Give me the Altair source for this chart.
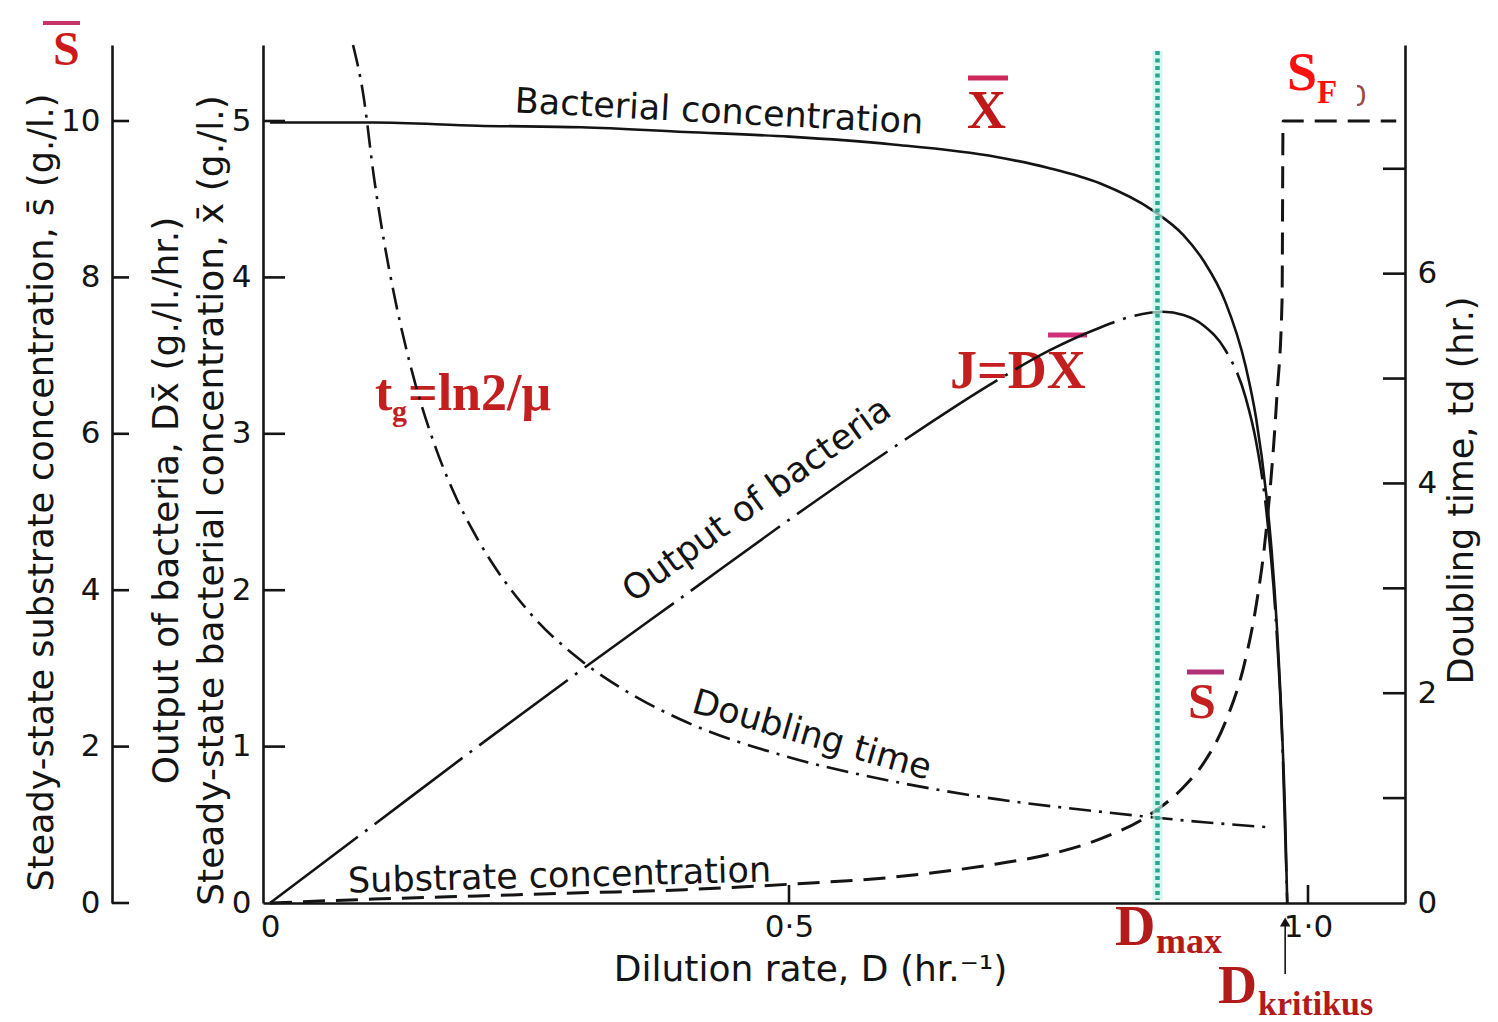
import altair as alt
import pandas as pd

# ---------------- chemostat steady-state curves ----------------
# dilution rate D (hr^-1) and steady-state bacterial concentration x (g/l)
D_X = [0, 0.1, 0.2, 0.3, 0.4, 0.5, 0.6, 0.7, 0.75, 0.8, 0.85, 0.88, 0.9,
       0.92, 0.94, 0.95, 0.96, 0.965, 0.97, 0.975, 0.978, 0.98]
X_BAR = [4.99, 4.99, 4.97, 4.96, 4.93, 4.90, 4.85, 4.77, 4.70, 4.60, 4.43, 4.27, 4.10,
         3.85, 3.43, 3.10, 2.60, 2.25, 1.77, 1.10, 0.55, 0.0]

# output of bacteria D*x (g/l/hr)
D_OUT = [0, 0.1, 0.2, 0.3, 0.4, 0.5, 0.6, 0.7, 0.75, 0.8, 0.83, 0.86, 0.88,
         0.9, 0.92, 0.94, 0.95, 0.96, 0.97, 0.975, 0.98]
OUTPUT = [0, 0.50, 1.00, 1.49, 1.97, 2.45, 2.91, 3.34, 3.53, 3.68, 3.75, 3.78, 3.76,
          3.69, 3.54, 3.23, 2.95, 2.50, 1.71, 1.07, 0.0]

# doubling time (hr)
D_TD = [0.08, 0.09, 0.1, 0.11, 0.12, 0.14, 0.16, 0.18, 0.2, 0.25, 0.3, 0.35,
        0.4, 0.5, 0.6, 0.7, 0.8, 0.9, 0.965]
T_DOUBLE = [8.18, 7.70, 6.93, 6.30, 5.78, 4.95, 4.33, 3.85, 3.47, 2.77, 2.31, 1.98,
            1.73, 1.39, 1.16, 0.99, 0.87, 0.77, 0.72]

# steady-state substrate concentration s (g/l), jumping to the feed level S_F
D_S = [0, 0.1, 0.2, 0.3, 0.4, 0.5, 0.6, 0.7, 0.75, 0.8, 0.85, 0.88, 0.9,
       0.92, 0.94, 0.95, 0.96, 0.97, 0.975, 0.976, 1.085]
S_BAR = [0, 0.05, 0.09, 0.13, 0.17, 0.24, 0.33, 0.50, 0.62, 0.82, 1.15, 1.48, 1.80,
         2.30, 3.13, 3.80, 4.80, 6.47, 7.70, 10.0, 10.0]

D_MAX = 0.855
D_CRIT = 0.978

X_TICKS = [0, 0.5, 1.0]
X_MARKS = [0.5, 1.0]
SUB_TICKS = [0, 2, 4, 6, 8, 10]
BAC_TICKS = [0, 1, 2, 3, 4, 5]
BAC_MARKS = [1, 2, 3, 4, 5]
TD_TICKS = [0, 2, 4, 6]
TD_MARKS = [1, 2, 3, 4, 5, 6, 7]

# curve captions: text, D, value, angle
BAC_CAPTIONS = [("Bacterial concentration", 0.4326, 5.058, 3),
                ("Output of bacteria", 0.469, 2.577, 324)]
TD_CAPTIONS = [("Doubling time", 0.522, 1.60, 16)]
SUB_CAPTIONS = [("Substrate concentration", 0.279, 0.345, 358.5)]

# ---------------- geometry & style ----------------
W, H = 1142, 858
PAD_L, PAD_T = 263, 45
SANS = "DejaVu Sans"
SERIF = "Liberation Serif"
INK = "#141414"

xs = alt.Scale(domain=[-0.00674, 1.09345], nice=False, zero=False)
sb = alt.Scale(domain=[0, 5.486], nice=False, zero=False)
ss = alt.Scale(domain=[0, 10.972], nice=False, zero=False)
st = alt.Scale(domain=[0, 8.18], nice=False, zero=False)

common = dict(grid=False, ticks=False, domainColor=INK, domainWidth=2.6,
              labelFont=SANS, labelFontSize=31, labelColor=INK,
              titleFont=SANS, titleFontWeight="normal", titleColor=INK)

x_axis = alt.Axis(values=X_TICKS, labelFlush=False, labelPadding=9,
                  labelExpr="datum.value == 0 ? '0' : replace(format(datum.value, '.1f'), '.', '·')",
                  title="Dilution rate, D (hr.⁻¹)", titleFontSize=36,
                  titlePadding=10, titleX=547, **common)
bac_axis = alt.Axis(orient="left", values=BAC_TICKS, labelPadding=12,
                    title=["Output of bacteria, Dx̄ (g./l./hr.)",
                           "Steady-state bacterial concentration, x̄ (g./l.)"],
                    titleFontSize=36, titleLineHeight=45, titlePadding=1,
                    titleY=455, **common)
sub_axis = alt.Axis(orient="left", offset=151, values=SUB_TICKS, labelPadding=12,
                    title="Steady-state substrate concentration, s̄ (g./l.)",
                    titleFontSize=35, titlePadding=1, titleY=447, **common)
td_axis = alt.Axis(orient="right", values=TD_TICKS, labelPadding=12,
                   title="Doubling time, td (hr.)", titleFontSize=35,
                   titleAngle=270, titleBaseline="top", titlePadding=8,
                   titleY=445, **common)

ONE = pd.DataFrame({"k": [0]})


def xd(axis=x_axis):
    return alt.X("D:Q", scale=xs, axis=axis)


def curve(ds, vs, scale, axis, dash=None, width=2.6):
    df = pd.DataFrame({"D": ds, "v": vs})
    kw = dict(color=INK, strokeWidth=width, interpolate="monotone")
    if dash:
        kw["strokeDash"] = dash
    return alt.Chart(df).mark_line(**kw).encode(
        x=xd(), y=alt.Y("v:Q", scale=scale, axis=axis))


def captions(rows, scale):
    out = []
    for text, d, v, ang in rows:
        df = pd.DataFrame({"D": [d], "v": [v], "t": [text]})
        out.append(alt.Chart(df).mark_text(font=SANS, fontSize=35, color=INK,
                                           angle=ang, baseline="middle")
                   .encode(x=xd(), y=alt.Y("v:Q", scale=scale, axis=None), text="t:N"))
    return out


def yticks(vals, scale, x0, x1):
    df = pd.DataFrame({"v": vals})
    return alt.Chart(df).mark_rule(color=INK, strokeWidth=2.6).encode(
        x=alt.value(x0), x2=alt.value(x1), y=alt.Y("v:Q", scale=scale, axis=None))


def note(text, x, y, size, color, font=SERIF, weight="bold"):
    return alt.Chart(ONE).mark_text(text=text, font=font, fontSize=size, fontWeight=weight,
                                    color=color, align="left", baseline="alphabetic").encode(
        x=alt.value(x - PAD_L), y=alt.value(y - PAD_T))


def overline(x1, x2, y, color, width=4):
    return alt.Chart(ONE).mark_rule(color=color, strokeWidth=width).encode(
        x=alt.value(x1 - PAD_L), x2=alt.value(x2 - PAD_L), y=alt.value(y - PAD_T))


# red labels
DARK_RED = "#b31a1a"
RED = "#c41f1f"
notes = [
    overline(43, 80, 23, "#c8336a"),
    note("S", 53, 65, 48, "#cc1a1a"),
    overline(968, 1008, 78, "#cc2a5a", 5),
    note("X", 967, 128, 54, "#c01818"),
    note("0", 1349, 106, 28, "#a04848", font=SANS, weight="normal"),
    alt.Chart(ONE).mark_rect(color="white").encode(
        x=alt.value(1273 - PAD_L), x2=alt.value(1357 - PAD_L),
        y=alt.value(40 - PAD_T), y2=alt.value(112 - PAD_T)),
    note("S", 1287, 90, 54, "#ff1010"),
    note("F", 1317, 103, 33, "#ff1010"),
    note("J=DX", 950, 388, 54, RED),
    overline(1048, 1087, 335, "#d0307a", 5),
    note("t", 375, 410, 52, RED),
    note("g", 392, 421, 30, RED),
    note("=ln2/μ", 408, 410, 52, RED),
    overline(1187, 1224, 672, "#b0307a", 5),
    note("S", 1188, 718, 50, RED),
    note("D", 1115, 945, 56, DARK_RED),
    note("max", 1156, 953, 36, DARK_RED),
    note("D", 1218, 1003, 54, DARK_RED),
    note("kritikus", 1258, 1015, 34, DARK_RED),
]

# curves
bac = curve(D_X, X_BAR, sb, bac_axis)
out = curve(D_OUT, OUTPUT, sb, None, dash=[110, 9, 3, 9])
td = curve(D_TD, T_DOUBLE, st, td_axis, dash=[22, 8, 3, 8])
sub = curve(D_S, S_BAR, ss, sub_axis, dash=[22, 11], width=3)

# inward tick marks
ticks = [
    yticks(SUB_TICKS, ss, -151, -134),
    yticks(BAC_MARKS, sb, 0, 22),
    yticks(TD_MARKS, st, W - 22, W),
    alt.Chart(pd.DataFrame({"D": X_MARKS})).mark_rule(color=INK, strokeWidth=2.6).encode(
        x=xd(), y=alt.value(H), y2=alt.value(H - 18)),
]

# D_max marker and D_critical arrow
dmax = pd.DataFrame({"D": [D_MAX]})
dcrit = pd.DataFrame({"D": [D_CRIT]})
markers = [
    alt.Chart(dmax).mark_rule(color="#c4f3ea", strokeWidth=10, opacity=0.7).encode(
        x=xd(), y=alt.value(6), y2=alt.value(H - 3)),
    alt.Chart(dmax).mark_rule(color="#2aa594", strokeWidth=4.5, strokeDash=[4, 3.5]).encode(
        x=xd(), y=alt.value(6), y2=alt.value(H - 3)),
    alt.Chart(dcrit).mark_rule(color=INK, strokeWidth=1.6).encode(
        x=xd(), y=alt.value(929), y2=alt.value(878)),
    alt.Chart(dcrit).mark_point(shape="triangle-up", filled=True, size=110,
                                color=INK, opacity=1).encode(x=xd(), y=alt.value(877)),
]

layers = (notes + [bac, out, td, sub]
          + captions(BAC_CAPTIONS, sb) + captions(TD_CAPTIONS, st)
          + captions(SUB_CAPTIONS, ss) + ticks + markers)

chart = alt.layer(*layers).resolve_scale(y="independent").properties(
    width=W, height=H,
    padding={"left": PAD_L, "top": PAD_T, "right": 1498 - PAD_L - W, "bottom": 1022 - PAD_T - H},
    autosize=alt.AutoSizeParams(type="none"),
    background="white",
).configure_view(stroke=None)

chart.save("out.html", embed_options={"renderer": "svg", "actions": False})
